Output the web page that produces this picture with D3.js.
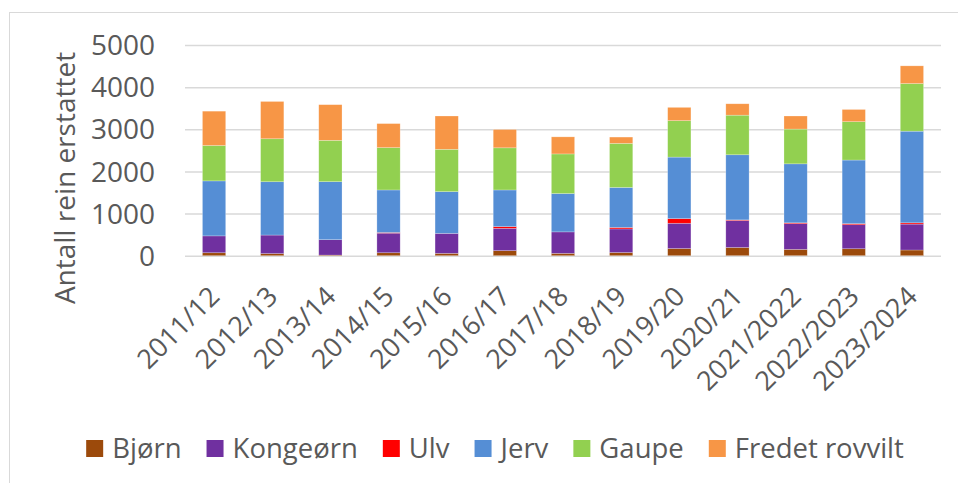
<!DOCTYPE html>
<html>
<head>
<meta charset="utf-8">
<script src="https://cdn.jsdelivr.net/npm/d3@7"></script>
<style>
  body { margin: 0; background: #fff; font-family: "Open Sans", sans-serif; }
  svg text { fill: #595959; }
  .grid line { stroke: #d9d9d9; stroke-width: 1.5px; }
  .grid path { display: none; }
</style>
</head>
<body>
<svg id="chart" width="958" height="483"></svg>
<script>
// seasons on x axis
var seasons = ['2011/12', '2012/13', '2013/14', '2014/15', '2015/16', '2016/17', '2017/18',
               '2018/19', '2019/20', '2020/21', '2021/2022', '2022/2023', '2023/2024'];
// species (stack order, bottom to top)
var species = ['Bjørn', 'Kongeørn', 'Ulv', 'Jerv', 'Gaupe', 'Fredet rovvilt'];
var colors = ['#9c4a0b', '#7030a0', '#ff0000', '#558ed5', '#92d050', '#f79646'];

// values
var bjorn    = [70, 50, 15, 70, 55, 120, 55, 75, 170, 195, 150, 165, 135];
var kongeorn = [400, 440, 365, 465, 475, 530, 510, 560, 600, 640, 610, 570, 615];
var ulv      = [0, 0, 0, 15, 0, 40, 0, 35, 110, 15, 20, 25, 30];
var jerv     = [1305, 1265, 1376, 1010, 990, 870, 910, 950, 1460, 1545, 1400, 1510, 2175];
var gaupe    = [840, 1020, 982, 1005, 1005, 1000, 940, 1045, 865, 940, 825, 910, 1130];
var fredet   = [815, 885, 846, 570, 790, 435, 405, 150, 315, 270, 310, 290, 420];
var yTicks = [0, 1000, 2000, 3000, 4000, 5000];

var series = [bjorn, kongeorn, ulv, jerv, gaupe, fredet];
var rows = seasons.map(function(s, i) {
    var r = { season: s };
    species.forEach(function(k, j) { r[k] = series[j][i]; });
    return r;
});

var svg = d3.select('#chart');
var plotL = 185, plotR = 941, plotT = 45, plotB = 255.7;

var x = d3.scaleBand().domain(seasons).range([plotL, plotR]).paddingInner(0.6).paddingOuter(0.3);
var y = d3.scaleLinear().domain([0, 5000]).range([plotB, plotT]);

// chart frame
svg.append('rect')
    .attr('x', 9.5).attr('y', 12.5).attr('width', 960).attr('height', 480)
    .attr('fill', 'none').attr('stroke', '#d9d9d9').attr('stroke-width', 1);

// gridlines
svg.append('g').attr('class', 'grid')
    .attr('transform', 'translate(' + plotL + ',0)')
    .call(d3.axisLeft(y).tickValues(yTicks).tickSize(-(plotR - plotL)).tickFormat(''));

// y tick labels
svg.append('g').selectAll('text')
    .data(yTicks).enter().append('text')
    .attr('x', 155).attr('y', function(d) { return y(d); })
    .attr('dy', '0.36em')
    .attr('text-anchor', 'end')
    .style('font-size', '28px')
    .text(function(d) { return d; });

// y axis title
svg.append('text')
    .attr('transform', 'translate(75,178) rotate(-90)')
    .attr('text-anchor', 'middle')
    .style('font-size', '28px')
    .text('Antall rein erstattet');

// stacked bars
var stack = d3.stack().keys(species)(rows);
svg.append('g').selectAll('g')
    .data(stack).enter().append('g')
    .attr('fill', function(d, i) { return colors[i]; })
  .selectAll('rect')
    .data(function(d) { return d; }).enter().append('rect')
    .attr('x', function(d) { return x(d.data.season); })
    .attr('width', x.bandwidth())
    .attr('y', function(d) { return y(d[1]); })
    .attr('height', function(d) { return y(d[0]) - y(d[1]); })
    .attr('stroke', '#ffffff').attr('stroke-opacity', 0.4).attr('stroke-width', 0.6);

// x labels, rotated
svg.append('g').selectAll('text')
    .data(seasons).enter().append('text')
    .attr('transform', function(d) {
        return 'translate(' + (x(d) + x.bandwidth() / 2 + 7) + ',298) rotate(-45)';
    })
    .attr('text-anchor', 'end')
    .style('font-size', '27px')
    .text(function(d) { return d; });

// legend
var lg = svg.append('g');
var xpos = 0;
species.forEach(function(k, i) {
    var item = lg.append('g').attr('transform', 'translate(' + xpos + ',0)');
    item.append('rect').attr('x', 0).attr('y', 440).attr('width', 17).attr('height', 17)
        .attr('fill', colors[i]);
    var t = item.append('text').attr('x', 26).attr('y', 458)
        .style('font-size', '27.5px').text(k);
    xpos += 26 + t.node().getComputedTextLength() + 25;
});
var total = xpos - 25;
lg.attr('transform', 'translate(' + (495 - total / 2) + ',0)');
</script>
</body>
</html>
